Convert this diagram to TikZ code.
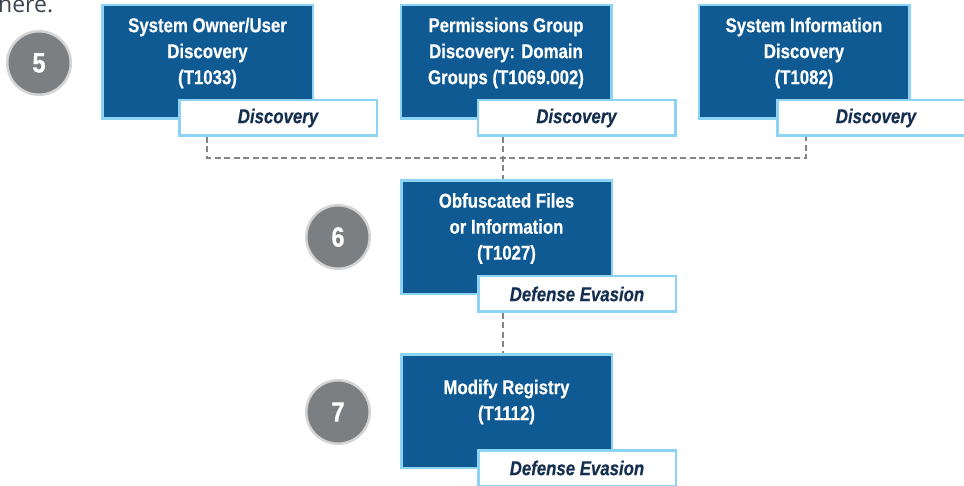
\documentclass[tikz,border=0pt]{standalone}
\usepackage{fontspec}
\newfontfamily\cond{Liberation Sans}[FakeStretch=0.84, FakeBold=0.4]
\newfontfamily\prose{Open Sans}
\usetikzlibrary{calc,backgrounds}
\definecolor{boxblue}{HTML}{0F5A93}
\definecolor{edgeblue}{HTML}{8DD3F3}
\definecolor{tagtext}{HTML}{142F4F}
\definecolor{dotgray}{HTML}{7C7F81}
\definecolor{ringgray}{HTML}{D4D4D4}
\definecolor{dashgray}{HTML}{858585}
\definecolor{prosegray}{HTML}{3B4551}
\begin{document}
\begin{tikzpicture}[x=1pt,y=-1pt,
  technique/.style={draw=edgeblue, line width=2.5pt, fill=boxblue,
    minimum width=210.5pt, minimum height=113.5pt, inner sep=0pt},
  techtext/.style={text=white, align=center, inner sep=0pt,
    font=\cond\bfseries\fontsize{20}{26}\selectfont},
  tactic/.style={draw=edgeblue, line width=2.5pt, fill=white,
    minimum width=197.5pt, minimum height=35.5pt, inner sep=0pt,
    text=tagtext, font=\cond\bfseries\itshape\fontsize{20}{24}\selectfont},
  stepnum/.style={circle, draw=ringgray, line width=2.5pt, fill=dotgray,
    minimum size=63.5pt, inner sep=0pt, text=white,
    font=\cond\bfseries\fontsize{28}{30}\selectfont},
  link/.style={draw=dashgray, line width=2.2pt, dash pattern=on 6pt off 3.5pt}]

\useasboundingbox (0,0) rectangle (964,486);
\clip (0,0) rectangle (964,486);

% tail of the preceding sentence
\node[anchor=base west, inner sep=0pt, text=prosegray,
  font=\prose\fontsize{23}{26}\selectfont] (prev) at (-2,12.5) {here.};

% step markers
\node[stepnum] (s5) at (39,63) {5};
\node[stepnum] (s6) at (338,237) {6};
\node[stepnum] (s7) at (338,412) {7};

% techniques
\node[technique] (b1) at (207.5,62) {};
\node[technique] (b2) at (506,62) {};
\node[technique] (b3) at (804,62) {};
\node[technique] (b6) at (506.5,237.5) {};
\node[technique] (b7) at (506.5,411) {};

\node[techtext] (l1) at ([yshift=9pt]b1.center) {System Owner/User\\Discovery\\(T1033)};
\node[techtext] (l2) at ([yshift=9pt]b2.center) {Permissions Group\\Discovery: Domain\\Groups (T1069.002)};
\node[techtext] (l3) at ([yshift=9pt]b3.center) {System Information\\Discovery\\(T1082)};
\node[techtext] (l6) at ([yshift=9pt]b6.center) {Obfuscated Files\\or Information\\(T1027)};
\node[techtext] (l7) at ([yshift=9pt]b7.center) {Modify Registry\\(T1112)};

% tactics
\node[tactic] (t1) at (278,118) {Discovery};
\node[tactic] (t2) at (576.5,118) {Discovery};
\node[tactic] (t3) at (876,118) {Discovery};
\node[tactic] (t6) at (577,294) {Defense Evasion};
\node[tactic] (t7) at (577,468) {Defense Evasion};

% dashed connectors
\coordinate (j1) at (207,158);
\coordinate (j2) at (503,158);
\coordinate (j3) at (806,158);
\begin{pgfonlayer}{background}
  \draw[link] (t1.south -| j1) -- (j1) -- (j3) -- (t3.south -| j3);
  \draw[link] (t2.south -| j2) -- (b6.north -| j2);
  \draw[link] (t6.south -| j2) -- (b7.north -| j2);
\end{pgfonlayer}
\end{tikzpicture}
\end{document}
